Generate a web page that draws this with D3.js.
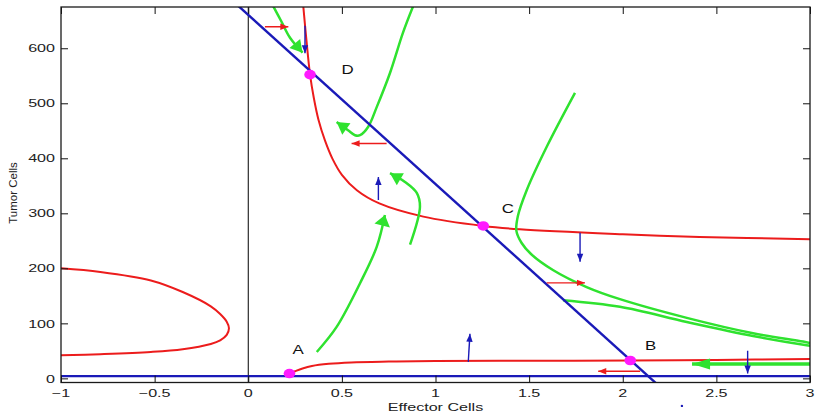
<!DOCTYPE html>
<html>
<head>
<meta charset="utf-8">
<script src="https://cdn.jsdelivr.net/npm/d3@7/dist/d3.min.js"></script>
<style>
  html, body { margin: 0; background: #fff; }
  svg { display: block; font-family: "Liberation Sans", Arial, Helvetica, sans-serif; }
</style>
</head>
<body>
<div id="chart"></div>
<script>
// tick values
const xTicks = [-1, -0.5, 0, 0.5, 1, 1.5, 2, 2.5, 3];
const yTicks = [0, 100, 200, 300, 400, 500, 600];

// effector nullcline (red), points as [effector, tumor]
const redUpper = [
  [0.294, 676], [0.307, 628], [0.33, 552], [0.35, 510], [0.375, 470], [0.41, 432],
  [0.45, 399], [0.5, 370], [0.58, 342], [0.7, 318], [0.935, 294], [1.255, 277],
  [1.45, 271], [2.0, 262], [2.41, 257], [3.0, 253]
];
const redLower = [
  [0.22, 8.8], [0.25, 13], [0.29, 18], [0.34, 22.5], [0.43, 26.5], [0.55, 29], [0.75, 30.5],
  [1.0, 31.5], [1.5, 32], [2.04, 32.5], [2.5, 33.5], [3.0, 35]
];
const redLeft = [
  [-1, 200], [-0.79, 193.5], [-0.52, 178], [-0.35, 157], [-0.2, 131], [-0.15, 117],
  [-0.115, 103], [-0.103, 91], [-0.115, 79], [-0.15, 69], [-0.2, 62.5], [-0.35, 53],
  [-0.52, 48], [-0.79, 44], [-1, 42]
];

// tumor nullclines (blue) and the E = 0 line
const blueDiagonal = [[-0.0955, 690], [2.188, -12]];
const blueFloor = [[-1, 4], [3, 4]];
const zeroLine = [[0, -7.5], [0, 675]];

// equilibria
const equilibria = [
  {name: "A", e: 0.22, t: 8.8},
  {name: "B", e: 2.04, t: 32.5},
  {name: "C", e: 1.255, t: 277},
  {name: "D", e: 0.33, t: 552}
];
const labelSpots = {A: [0.266, 53], B: [2.149, 61], C: [1.387, 310], D: [0.531, 562]};

// trajectories (green)
const trajTopLeft = [[0.134, 676], [0.175, 650], [0.223, 619], [0.29, 592]];
const trajU = [
  [0.88, 676], [0.826, 628], [0.757, 555], [0.686, 493], [0.64, 457], [0.597, 442],
  [0.57, 442], [0.533, 451], [0.472, 466]
];
const trajFromA = [[0.366, 48], [0.472, 93.6], [0.597, 173], [0.686, 239], [0.73, 297]];
const trajHook = [[0.864, 243], [0.917, 312], [0.9, 337], [0.837, 357], [0.757, 373]];
const trajC = [
  [1.745, 519], [1.594, 421], [1.487, 342], [1.44, 295], [1.432, 268], [1.46, 246],
  [1.51, 226], [1.627, 197], [1.807, 166], [1.985, 144], [2.342, 110], [2.696, 82],
  [2.963, 67], [3.0, 64]
];
const trajLow = [[1.681, 142], [1.985, 130], [2.342, 102.5], [2.696, 77], [2.982, 60.3], [3.0, 59.5]];
const trajBottom = [[3.0, 26], [2.7, 26], [2.37, 26]];

// direction markers
const redArrows = [
  [[0.089, 639], [0.214, 639]],
  [[0.739, 427], [0.552, 427]],
  [[1.594, 173.6], [1.798, 173.6]],
  [[2.093, 13], [1.869, 13]]
];
const blueArrows = [
  [[0.303, 641], [0.303, 591]],
  [[0.695, 324], [0.695, 366]],
  [[1.175, 30], [1.184, 81]],
  [[1.772, 264.5], [1.772, 212]],
  [[2.667, 50], [2.667, 9]]
];
const strayDot = [2.316, -50];

const width = 819;
const height = 415;
const plot = {left: 61, right: 810, top: 7, bottom: 382.5};
const colors = {red: "#ec1c1c", blue: "#1a1ab8", green: "#2fe22f", magenta: "#ff1aff"};
const textStretch = 1.4;

const svg = d3.select("#chart").append("svg").attr("width", width).attr("height", height);

const x = d3.scaleLinear().domain([-1, 3]).range([plot.left, plot.right]);
const y = d3.scaleLinear().domain([-7.5, 675]).range([plot.bottom, plot.top]);

svg.append("defs").append("clipPath").attr("id", "plot-clip")
  .append("rect")
  .attr("x", plot.left).attr("y", plot.top)
  .attr("width", plot.right - plot.left).attr("height", plot.bottom - plot.top);

const smooth = d3.line().x((d) => x(d[0])).y((d) => y(d[1])).curve(d3.curveCatmullRom.alpha(0.5));
const straight = d3.line().x((d) => x(d[0])).y((d) => y(d[1]));

const area = svg.append("g").attr("clip-path", "url(#plot-clip)");

function strokePath(g, gen, pts, color, w) {
  return g.append("path").attr("d", gen(pts)).attr("fill", "none")
    .attr("stroke", color).attr("stroke-width", w).attr("stroke-linejoin", "round");
}

function drawHead(g, from, to, len, half, color) {
  const [x0, y0] = [x(from[0]), y(from[1])];
  const [x1, y1] = [x(to[0]), y(to[1])];
  const d = Math.hypot(x1 - x0, y1 - y0) || 1;
  const ux = (x1 - x0) / d, uy = (y1 - y0) / d;
  const bx = x1 - ux * len, by = y1 - uy * len;
  g.append("path")
    .attr("d", `M${x1},${y1}L${bx - uy * half},${by + ux * half}L${bx + uy * half},${by - ux * half}Z`)
    .attr("fill", color);
}

strokePath(area, straight, zeroLine, "#000", 1);
strokePath(area, straight, blueFloor, colors.blue, 2.4);

[redUpper, redLower, redLeft].forEach((pts) => strokePath(area, smooth, pts, colors.red, 2));

// green trajectories, arrowhead sizes per curve
const greenSet = [
  {pts: trajTopLeft, head: [12, 7]},
  {pts: trajU, head: [12, 7]},
  {pts: trajFromA, head: [11, 8]},
  {pts: trajHook, head: [12, 7]},
  {pts: trajC, head: null},
  {pts: trajLow, head: null},
  {pts: trajBottom, head: [18, 5.5]}
];
greenSet.forEach(({pts, head}) => {
  strokePath(area, smooth, pts, colors.green, pts === trajBottom ? 3.5 : 2.5);
  if (head) drawHead(area, pts[pts.length - 2], pts[pts.length - 1], head[0], head[1], colors.green);
});

strokePath(area, straight, blueDiagonal, colors.blue, 2.4);

redArrows.forEach(([a, b]) => {
  strokePath(area, straight, [a, b], colors.red, 1.4);
  drawHead(area, a, b, 8, 3.2, colors.red);
});
blueArrows.forEach(([a, b]) => {
  strokePath(area, straight, [a, b], colors.blue, 1.4);
  drawHead(area, a, b, 8, 3.2, colors.blue);
});

area.selectAll("ellipse.eq")
  .data(equilibria)
  .join("ellipse")
  .attr("class", "eq")
  .attr("cx", (d) => x(d.e))
  .attr("cy", (d) => y(d.t))
  .attr("rx", 5.8)
  .attr("ry", 4.8)
  .attr("fill", colors.magenta);

svg.selectAll("text.eq-label")
  .data(equilibria)
  .join("text")
  .attr("class", "eq-label")
  .attr("transform", (d) => `translate(${x(labelSpots[d.name][0])},${y(labelSpots[d.name][1])}) scale(1.3,1)`)
  .attr("text-anchor", "middle")
  .attr("dy", "0.36em")
  .attr("font-size", 13)
  .attr("fill", "#111")
  .text((d) => d.name);

svg.append("circle")
  .attr("cx", x(strayDot[0])).attr("cy", y(strayDot[1]))
  .attr("r", 1.2).attr("fill", colors.blue);

// frame and inward ticks on all sides
const tickLen = 7;
svg.append("g").attr("transform", `translate(0,${plot.bottom})`)
  .call(d3.axisBottom(x).tickValues(xTicks).tickSizeInner(-tickLen).tickSizeOuter(0).tickFormat(""));
svg.append("g").attr("transform", `translate(0,${plot.top})`)
  .call(d3.axisTop(x).tickValues(xTicks).tickSizeInner(-tickLen).tickSizeOuter(0).tickFormat(""));
svg.append("g").attr("transform", `translate(${plot.left},0)`)
  .call(d3.axisLeft(y).tickValues(yTicks).tickSizeInner(-tickLen).tickSizeOuter(0).tickFormat(""));
svg.append("g").attr("transform", `translate(${plot.right},0)`)
  .call(d3.axisRight(y).tickValues(yTicks).tickSizeInner(-tickLen).tickSizeOuter(0).tickFormat(""));
svg.selectAll(".domain").remove();
svg.selectAll(".tick line").attr("stroke", "#111").attr("stroke-width", 1);

svg.append("rect")
  .attr("x", plot.left).attr("y", plot.top)
  .attr("width", plot.right - plot.left).attr("height", plot.bottom - plot.top)
  .attr("fill", "none").attr("stroke", "#1a1a1a").attr("stroke-width", 1.3);

const fmt = (v) => d3.format("")(v).replace("-", "\u2212");

svg.selectAll("text.x-tick")
  .data(xTicks)
  .join("text")
  .attr("class", "x-tick")
  .attr("transform", (d) => `translate(${x(d)},397) scale(${textStretch},1)`)
  .attr("text-anchor", "middle")
  .attr("font-size", 11.5)
  .attr("fill", "#222")
  .text(fmt);

svg.selectAll("text.y-tick")
  .data(yTicks)
  .join("text")
  .attr("class", "y-tick")
  .attr("transform", (d) => `translate(55,${y(d)}) scale(${textStretch},1)`)
  .attr("text-anchor", "end")
  .attr("dy", "0.36em")
  .attr("font-size", 11.5)
  .attr("fill", "#222")
  .text(fmt);

svg.append("text")
  .attr("transform", `translate(${(plot.left + plot.right) / 2},410.5) scale(${textStretch},1)`)
  .attr("text-anchor", "middle")
  .attr("font-size", 11.5)
  .attr("fill", "#222")
  .text("Effector Cells");

svg.append("text")
  .attr("transform", "translate(16.5,193) rotate(-90)")
  .attr("text-anchor", "middle")
  .attr("font-size", 11.5)
  .attr("fill", "#222")
  .text("Tumor Cells");
</script>
</body>
</html>
